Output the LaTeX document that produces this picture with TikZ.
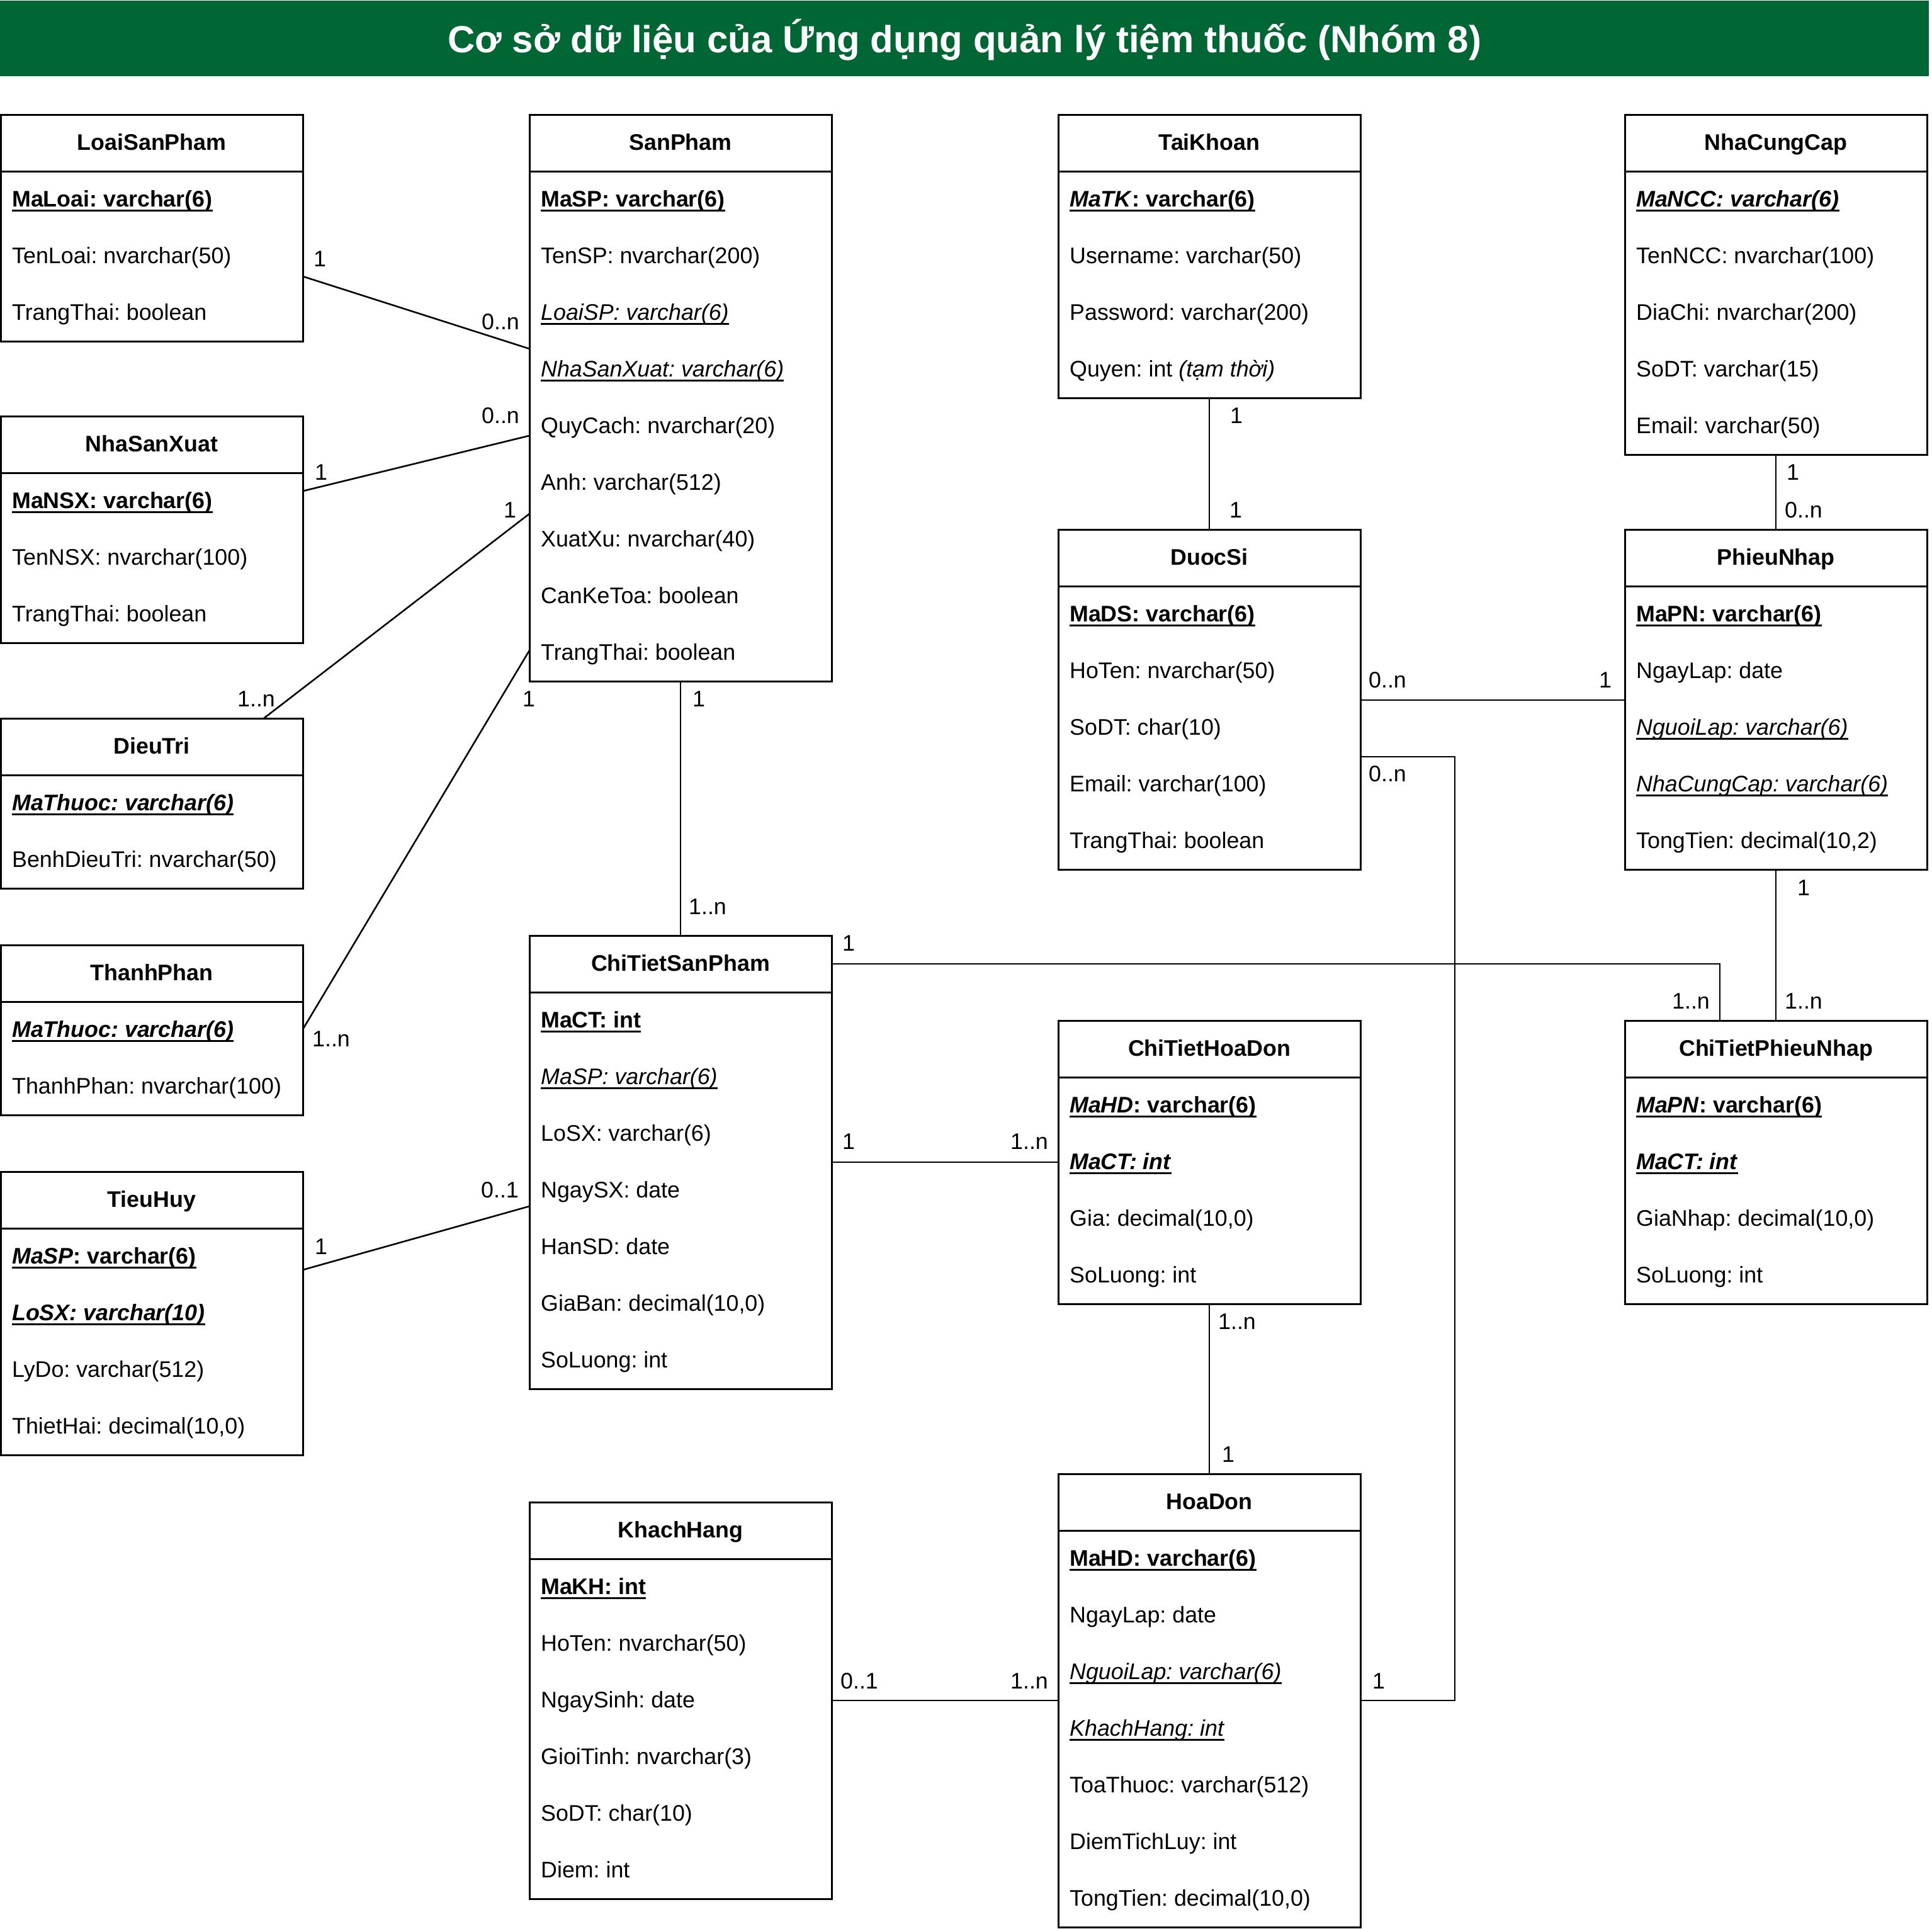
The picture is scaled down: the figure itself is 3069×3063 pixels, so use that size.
\documentclass[tikz,border=0pt]{standalone}
\usepackage{fontspec}
\setmainfont{Liberation Sans}
\usetikzlibrary{calc}
\definecolor{titlegreen}{RGB}{0,102,51}
\frenchspacing
\newcommand\fs{\fontsize{35.8}{42}\selectfont}
\newcommand\ulx[1]{\setbox0=\hbox{#1}\rlap{\rule[-7.5pt]{\wd0}{2.6pt}}\box0}
\tikzset{
  tablebox/.style={draw, line width=3pt, rectangle, inner sep=0pt, outer sep=0pt, minimum width=480pt, anchor=north west},
  headtxt/.style={font=\bfseries\fs, inner sep=0pt, anchor=base},
  rowtxt/.style={font=\fs, inner sep=0pt, anchor=base west},
  lbl/.style={font=\fs, inner sep=0pt, anchor=base},
  conn/.style={line width=2.6pt},
  sep/.style={line width=3pt}
}
\newcommand\ertable[5]{%
  \node[tablebox, minimum height={90*(#4+1)}] (#1) at (#2,#3) {};
  \node[headtxt] (#1-h) at ($(#1.north)+(0,56)$) {#5};
  \draw[sep] ($(#1.north west)+(0,90)$) -- ($(#1.north east)+(0,90)$);
}
\newcommand\errow[3]{\node[rowtxt] (#1-#2) at ($(#1.north west)+(18,{90*#2+56})$) {#3};}
\begin{document}
\begin{tikzpicture}[x=1pt,y=-1pt]
\useasboundingbox (0,0) rectangle (3069,3063);
% title
\node[fill=titlegreen, minimum width=3064pt, minimum height=120pt, inner sep=0pt, outer sep=0pt, anchor=north west] (titlebar) at (0,1) {};
\node[font=\bfseries\fontsize{60}{72}\selectfont, text=white, inner sep=0pt, anchor=base] (title) at (1532,83) {Cơ sở dữ liệu của Ứng dụng quản lý tiệm thuốc (Nhóm 8)};

% LoaiSanPham
\ertable{lsp}{1}{182}{3}{LoaiSanPham}
\errow{lsp}{1}{\ulx{\textbf{MaLoai: varchar(6)}}}
\errow{lsp}{2}{TenLoai: nvarchar(50)}
\errow{lsp}{3}{TrangThai: boolean}

% SanPham
\ertable{sp}{841}{182}{9}{SanPham}
\errow{sp}{1}{\ulx{\textbf{MaSP: varchar(6)}}}
\errow{sp}{2}{TenSP: nvarchar(200)}
\errow{sp}{3}{\ulx{\textit{LoaiSP: varchar(6)}}}
\errow{sp}{4}{\ulx{\textit{NhaSanXuat: varchar(6)}}}
\errow{sp}{5}{QuyCach: nvarchar(20)}
\errow{sp}{6}{Anh: varchar(512)}
\errow{sp}{7}{XuatXu: nvarchar(40)}
\errow{sp}{8}{CanKeToa: boolean}
\errow{sp}{9}{TrangThai: boolean}

% TaiKhoan
\ertable{tk}{1681}{182}{4}{TaiKhoan}
\errow{tk}{1}{\ulx{\textbf{\textit{MaTK}: varchar(6)}}}
\errow{tk}{2}{Username: varchar(50)}
\errow{tk}{3}{Password: varchar(200)}
\errow{tk}{4}{Quyen: int \textit{(tạm thời)}}

% NhaCungCap
\ertable{ncc}{2581}{182}{5}{NhaCungCap}
\errow{ncc}{1}{\ulx{\textbf{\textit{MaNCC: varchar(6)}}}}
\errow{ncc}{2}{TenNCC: nvarchar(100)}
\errow{ncc}{3}{DiaChi: nvarchar(200)}
\errow{ncc}{4}{SoDT: varchar(15)}
\errow{ncc}{5}{Email: varchar(50)}

% NhaSanXuat
\ertable{nsx}{1}{661}{3}{NhaSanXuat}
\errow{nsx}{1}{\ulx{\textbf{MaNSX: varchar(6)}}}
\errow{nsx}{2}{TenNSX: nvarchar(100)}
\errow{nsx}{3}{TrangThai: boolean}

% DieuTri
\ertable{dt}{1}{1141}{2}{DieuTri}
\errow{dt}{1}{\ulx{\textbf{\textit{MaThuoc: varchar(6)}}}}
\errow{dt}{2}{BenhDieuTri: nvarchar(50)}

% ThanhPhan
\ertable{tp}{1}{1501}{2}{ThanhPhan}
\errow{tp}{1}{\ulx{\textbf{\textit{MaThuoc: varchar(6)}}}}
\errow{tp}{2}{ThanhPhan: nvarchar(100)}

% TieuHuy
\ertable{th}{1}{1861}{4}{TieuHuy}
\errow{th}{1}{\ulx{\textbf{\textit{MaSP}: varchar(6)}}}
\errow{th}{2}{\ulx{\textbf{\textit{LoSX: varchar(10)}}}}
\errow{th}{3}{LyDo: varchar(512)}
\errow{th}{4}{ThietHai: decimal(10,0)}

% DuocSi
\ertable{ds}{1681}{841}{5}{DuocSi}
\errow{ds}{1}{\ulx{\textbf{MaDS: varchar(6)}}}
\errow{ds}{2}{HoTen: nvarchar(50)}
\errow{ds}{3}{SoDT: char(10)}
\errow{ds}{4}{Email: varchar(100)}
\errow{ds}{5}{TrangThai: boolean}

% PhieuNhap
\ertable{pn}{2581}{841}{5}{PhieuNhap}
\errow{pn}{1}{\ulx{\textbf{MaPN: varchar(6)}}}
\errow{pn}{2}{NgayLap: date}
\errow{pn}{3}{\ulx{\textit{NguoiLap: varchar(6)}}}
\errow{pn}{4}{\ulx{\textit{NhaCungCap: varchar(6)}}}
\errow{pn}{5}{TongTien: decimal(10,2)}

% ChiTietSanPham
\ertable{ctsp}{841}{1486}{7}{ChiTietSanPham}
\errow{ctsp}{1}{\ulx{\textbf{MaCT: int}}}
\errow{ctsp}{2}{\ulx{\textit{MaSP: varchar(6)}}}
\errow{ctsp}{3}{LoSX: varchar(6)}
\errow{ctsp}{4}{NgaySX: date}
\errow{ctsp}{5}{HanSD: date}
\errow{ctsp}{6}{GiaBan: decimal(10,0)}
\errow{ctsp}{7}{SoLuong: int}

% ChiTietHoaDon
\ertable{cthd}{1681}{1621}{4}{ChiTietHoaDon}
\errow{cthd}{1}{\ulx{\textbf{\textit{MaHD}: varchar(6)}}}
\errow{cthd}{2}{\ulx{\textbf{\textit{MaCT: int}}}}
\errow{cthd}{3}{Gia: decimal(10,0)}
\errow{cthd}{4}{SoLuong: int}

% ChiTietPhieuNhap
\ertable{ctpn}{2581}{1621}{4}{ChiTietPhieuNhap}
\errow{ctpn}{1}{\ulx{\textbf{\textit{MaPN}: varchar(6)}}}
\errow{ctpn}{2}{\ulx{\textbf{\textit{MaCT: int}}}}
\errow{ctpn}{3}{GiaNhap: decimal(10,0)}
\errow{ctpn}{4}{SoLuong: int}

% HoaDon
\ertable{hd}{1681}{2341}{7}{HoaDon}
\errow{hd}{1}{\ulx{\textbf{MaHD: varchar(6)}}}
\errow{hd}{2}{NgayLap: date}
\errow{hd}{3}{\ulx{\textit{NguoiLap: varchar(6)}}}
\errow{hd}{4}{\ulx{\textit{KhachHang: int}}}
\errow{hd}{5}{ToaThuoc: varchar(512)}
\errow{hd}{6}{DiemTichLuy: int}
\errow{hd}{7}{TongTien: decimal(10,0)}

% KhachHang
\ertable{kh}{841}{2386}{6}{KhachHang}
\errow{kh}{1}{\ulx{\textbf{MaKH: int}}}
\errow{kh}{2}{HoTen: nvarchar(50)}
\errow{kh}{3}{NgaySinh: date}
\errow{kh}{4}{GioiTinh: nvarchar(3)}
\errow{kh}{5}{SoDT: char(10)}
\errow{kh}{6}{Diem: int}

% connectors
\draw[conn] ($(lsp.north east)+(0,257)$) -- ($(sp.north west)+(0,372)$);
\draw[conn] ($(nsx.north east)+(0,119)$) -- ($(sp.north west)+(0,510)$);
\draw[conn] ($(dt.north west)+(418,0)$) -- ($(sp.north west)+(0,634)$);
\draw[conn] ($(tp.north east)+(0,134)$) -- ($(sp.north west)+(0,851)$);
\draw[conn] (sp.south) -- (ctsp.north);
\draw[conn] ($(th.north east)+(0,156)$) -- ($(ctsp.north west)+(0,430)$);
\draw[conn] (tk.south) -- (ds.north);
\draw[conn] (ncc.south) -- (pn.north);
\draw[conn] ($(ds.north east)+(0,271)$) -- ($(pn.north west)+(0,271)$);
\draw[conn] ($(ds.north east)+(0,361)$) -- ++(150,0) |- (hd.east);
\draw[conn] ($(ctsp.north east)+(0,45)$) -| ($(ctpn.north west)+(151,0)$);
\draw[conn] (pn.south) -- (ctpn.north);
\draw[conn] (ctsp.east) -- (cthd.west);
\draw[conn] (cthd.south) -- (hd.north);
\draw[conn] (kh.east) -- (hd.west);

% multiplicity labels
\node[lbl] (l1) at (508,423) {1};
\node[lbl] (l2) at (795,523) {0..n};
\node[lbl] (l3) at (795,672) {0..n};
\node[lbl] (l4) at (510,762) {1};
\node[lbl] (l5) at (810,822) {1};
\node[lbl] (l6) at (407,1122) {1..n};
\node[lbl] (l7) at (840,1122) {1};
\node[lbl] (l8) at (1110,1122) {1};
\node[lbl] (l9) at (1124,1452) {1..n};
\node[lbl] (l10) at (526,1662) {1..n};
\node[lbl] (l11) at (1964,672) {1};
\node[lbl] (l12) at (1963,822) {1};
\node[lbl] (l13) at (2848,762) {1};
\node[lbl] (l14) at (2865,822) {0..n};
\node[lbl] (l15) at (2204,1092) {0..n};
\node[lbl] (l16) at (2550,1092) {1};
\node[lbl] (l17) at (2204,1241) {0..n};
\node[lbl] (l18) at (2865,1422) {1};
\node[lbl] (l19) at (1348,1510) {1};
\node[lbl] (l20) at (2686,1602) {1..n};
\node[lbl] (l21) at (2865,1602) {1..n};
\node[lbl] (l22) at (1348,1825) {1};
\node[lbl] (l23) at (1635,1825) {1..n};
\node[lbl] (l24) at (794,1902) {0..1};
\node[lbl] (l25) at (510,1992) {1};
\node[lbl] (l26) at (1965,2111) {1..n};
\node[lbl] (l27) at (1951,2322) {1};
\node[lbl] (l28) at (1365,2682) {0..1};
\node[lbl] (l29) at (1635,2682) {1..n};
\node[lbl] (l30) at (2190,2682) {1};
\end{tikzpicture}
\end{document}
